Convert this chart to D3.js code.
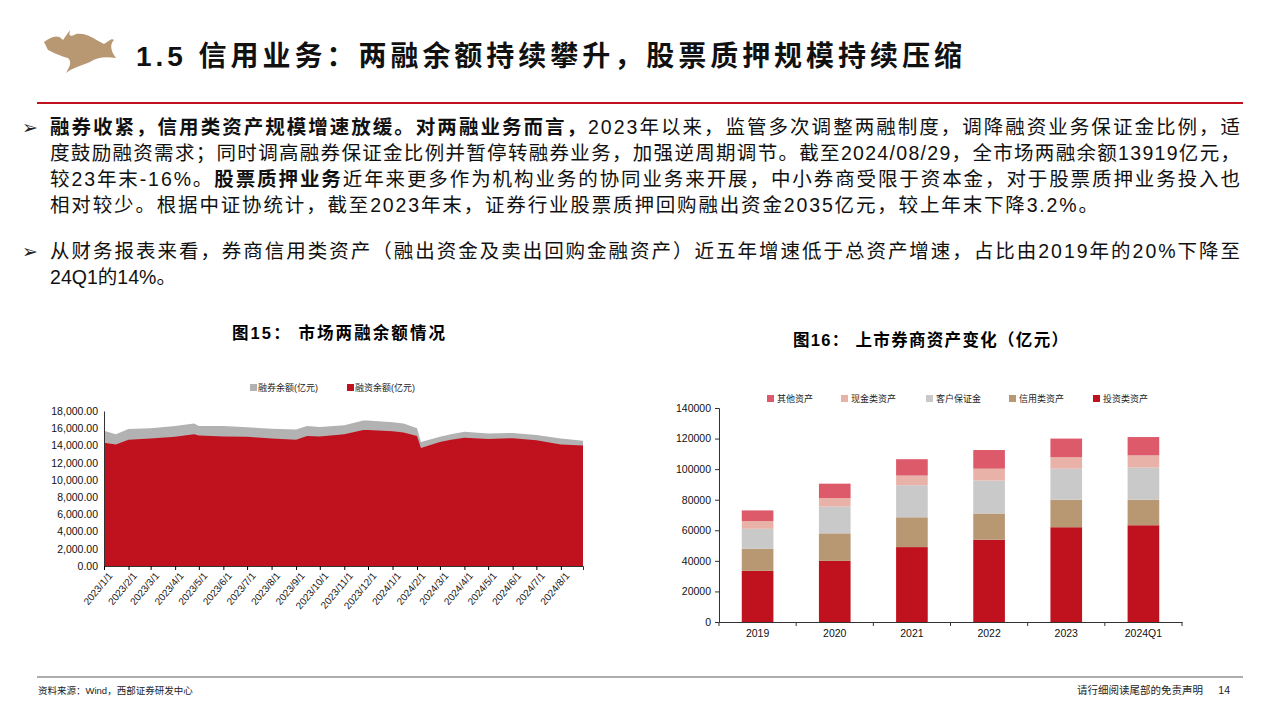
<!DOCTYPE html>
<html><head><meta charset="utf-8">
<script src="https://cdn.jsdelivr.net/npm/d3@7"></script>
<style>
body{margin:0;background:#fff;}
text{font-family:"Liberation Sans","Noto Sans CJK SC",sans-serif;}
</style></head>
<body><svg id="page" width="1280" height="720"></svg>
<script>
// left chart: margin balances (亿元)
const marginDates = ['2023-01-01','2023-01-16','2023-02-01','2023-03-01','2023-04-01','2023-04-25','2023-05-01','2023-06-01','2023-07-01','2023-08-01','2023-09-01','2023-09-15','2023-10-01','2023-11-01','2023-11-25','2023-12-01','2024-01-01','2024-01-15','2024-02-01','2024-02-06','2024-03-01','2024-03-15','2024-04-01','2024-05-01','2024-06-01','2024-07-01','2024-08-01','2024-08-29'];
const financing = [14300,14100,14650,14800,15000,15300,15150,15050,15000,14800,14650,15100,15050,15300,15800,15800,15650,15500,15100,13700,14400,14650,14900,14750,14850,14600,14100,14000];
const totalBalance = [15700,15300,15900,16000,16250,16550,16250,16250,16100,15950,15850,16250,16150,16350,16900,16900,16700,16550,16000,14400,15000,15300,15600,15400,15450,15200,14800,14550];
const leftTicks = [0,2000,4000,6000,8000,10000,12000,14000,16000,18000];

// right chart: listed brokers' assets (亿元)
const years = ['2019','2020','2021','2022','2023','2024Q1'];
const assetKeys = ['投资类资产','信用类资产','客户保证金','现金类资产','其他资产'];
const investAssets = [33500,40000,49000,53800,62000,63300];
const creditAssets = [14500,18000,19500,17200,18000,16700];
const clientDeposits = [13000,17500,21000,21500,20300,21000];
const cashAssets = [5000,5500,6300,7800,7500,8000];
const otherAssets = [7000,9500,10700,12200,12200,12000];
const assetColors = ['#c0111e','#b89773','#c9c9c9','#e8b2a8','#dc5a6a'];

const svg = d3.select('#page');

// header
svg.append('path')
  .attr('d','M44,42 C52,36 58,34 63,40 L70,30 C68,38 72,36 76,34 C86,32 96,40 104,44 C110,40 112,38 114,40 C110,44 110,50 116,58 C104,56 96,58 90,62 C80,66 72,68 66,73 C70,66 72,62 68,58 C60,56 52,52 48,50 Z')
  .attr('fill','#b89773');
svg.append('text').attr('x',136).attr('y',66)
  .attr('font-size',28).attr('font-weight','bold').attr('fill','#111')
  .attr('textLength',826).attr('lengthAdjust','spacing')
  .text('1.5 信用业务：两融余额持续攀升，股票质押规模持续压缩');
svg.append('line').attr('x1',37).attr('x2',1243).attr('y1',103).attr('y2',103)
  .attr('stroke','#c0111e').attr('stroke-width',2);

// body text
const lines = [
  {y:134, parts:[['融券收紧，信用类资产规模增速放缓。对两融业务而言，',1],['2023年以来，监管多次调整两融制度，调降融资业务保证金比例，适',0]], len:1190, bullet:true},
  {y:160, parts:[['度鼓励融资需求；同时调高融券保证金比例并暂停转融券业务，加强逆周期调节。截至2024/08/29，全市场两融余额13919亿元，',0]], len:1190},
  {y:186, parts:[['较23年末-16%。',0],['股票质押业务',1],['近年来更多作为机构业务的协同业务来开展，中小券商受限于资本金，对于股票质押业务投入也',0]], len:1190},
  {y:212, parts:[['相对较少。根据中证协统计，截至2023年末，证券行业股票质押回购融出资金2035亿元，较上年末下降3.2%。',0]], len:1048},
  {y:258, parts:[['从财务报表来看，券商信用类资产（融出资金及卖出回购金融资产）近五年增速低于总资产增速，占比由2019年的20%下降至',0]], len:1190, bullet:true},
  {y:284, parts:[['24Q1的14%。',0]], len:126}
];
lines.forEach(l => {
  if (l.bullet) svg.append('text').attr('x',22).attr('y',l.y).attr('font-size',19).attr('fill','#222').text('➢');
  const t = svg.append('text').attr('x',50).attr('y',l.y).attr('font-size',19.5).attr('fill','#111')
    .attr('textLength',l.len).attr('lengthAdjust','spacing');
  l.parts.forEach(p => t.append('tspan').attr('font-weight',p[1]?'bold':'normal').text(p[0]));
});

// chart titles
svg.append('text').attr('x',232).attr('y',339).attr('font-size',16.5).attr('font-weight','bold')
  .attr('textLength',213).attr('lengthAdjust','spacing').text('图15：  市场两融余额情况');
svg.append('text').attr('x',793).attr('y',346).attr('font-size',16.5).attr('font-weight','bold')
  .attr('textLength',275).attr('lengthAdjust','spacing').text('图16：  上市券商资产变化（亿元）');

// ---- left area chart
const parse = d3.timeParse('%Y-%m-%d');
const leftData = marginDates.map((d,i) => ({date:parse(d), fin:financing[i], tot:totalBalance[i]}));
const lx = d3.scaleTime().domain([parse('2023-01-01'), parse('2024-08-29')]).range([104,583]);
const ly = d3.scaleLinear().domain([0,18000]).range([566,411]);
const lg = svg.append('g');
lg.append('path').datum(leftData)
  .attr('d', d3.area().x(d=>lx(d.date)).y0(ly(0)).y1(d=>ly(d.tot)))
  .attr('fill','#b2b2b2');
lg.append('path').datum(leftData)
  .attr('d', d3.area().x(d=>lx(d.date)).y0(ly(0)).y1(d=>ly(d.fin)))
  .attr('fill','#c0111e');
const lyAxis = lg.append('g').attr('transform','translate(104,0)')
  .call(d3.axisLeft(ly).tickValues(leftTicks).tickSize(0).tickPadding(6).tickFormat(d3.format(',.2f')));
lyAxis.selectAll('text').attr('font-size',10.5).attr('fill','#111');
lyAxis.select('.domain').attr('stroke','#333');
const monthTicks = d3.timeMonth.range(parse('2023-01-01'), parse('2024-08-02'));
const lxAxis = lg.append('g').attr('transform','translate(0,566)')
  .call(d3.axisBottom(lx).tickValues(monthTicks).tickSize(4).tickFormat(d3.timeFormat('%Y/%-m/%-d')));
lxAxis.select('.domain').attr('stroke','#333');
lxAxis.selectAll('text').attr('font-size',10).attr('fill','#111')
  .attr('text-anchor','end').attr('transform','rotate(-50)').attr('dx','-2').attr('dy','6');
const legL = [['融券余额(亿元)','#b2b2b2',250],['融资余额(亿元)','#c0111e',347]];
legL.forEach(d => {
  svg.append('rect').attr('x',d[2]).attr('y',384).attr('width',7).attr('height',7).attr('fill',d[1]);
  svg.append('text').attr('x',d[2]+8).attr('y',391).attr('font-size',9).attr('fill','#222').text(d[0]);
});

// ---- right stacked bars
const rightData = years.map((y,i) => ({year:y, '投资类资产':investAssets[i], '信用类资产':creditAssets[i], '客户保证金':clientDeposits[i], '现金类资产':cashAssets[i], '其他资产':otherAssets[i]}));
const rx = d3.scaleBand().domain(years).range([719,1182]).paddingInner(0.59).paddingOuter(0.295);
const ry = d3.scaleLinear().domain([0,140000]).range([622,408]);
const color = d3.scaleOrdinal().domain(assetKeys).range(assetColors);
const stack = d3.stack().keys(assetKeys)(rightData);
const rg = svg.append('g');
rg.selectAll('g.layer').data(stack).enter().append('g').attr('fill', d=>color(d.key))
  .selectAll('rect').data(d=>d).enter().append('rect')
  .attr('x', d=>rx(d.data.year)).attr('width', rx.bandwidth())
  .attr('y', d=>ry(d[1])).attr('height', d=>ry(d[0])-ry(d[1]));
const ryAxis = rg.append('g').attr('transform','translate(719,0)')
  .call(d3.axisLeft(ry).ticks(7).tickSize(4).tickPadding(4).tickFormat(d3.format('d')));
ryAxis.selectAll('text').attr('font-size',10.5).attr('fill','#111');
ryAxis.selectAll('line').attr('stroke','#333'); ryAxis.select('.domain').attr('stroke','#333');
const rxAxis = rg.append('g').attr('transform','translate(0,622)')
  .call(d3.axisBottom(rx).tickSize(0).tickPadding(8));
rxAxis.selectAll('text').attr('font-size',10.5).attr('fill','#111');
rxAxis.select('.domain').attr('stroke','#333');
// category boundary ticks
rg.append('g').selectAll('line').data(d3.range(years.length+1)).enter().append('line')
  .attr('x1', i=>719+i*(463/years.length)).attr('x2', i=>719+i*(463/years.length))
  .attr('y1',622).attr('y2',626).attr('stroke','#333');
const legR = [['其他资产','#dc5a6a',767],['现金类资产','#e8b2a8',841],['客户保证金','#c9c9c9',926],['信用类资产','#b89773',1009],['投资类资产','#c0111e',1093]];
legR.forEach(d => {
  svg.append('rect').attr('x',d[2]).attr('y',395).attr('width',7).attr('height',7).attr('fill',d[1]);
  svg.append('text').attr('x',d[2]+10).attr('y',402).attr('font-size',9).attr('fill','#222').text(d[0]);
});

// footer
svg.append('line').attr('x1',37).attr('x2',1243).attr('y1',677).attr('y2',677).attr('stroke','#333').attr('stroke-width',0.8);
svg.append('text').attr('x',38).attr('y',694).attr('font-size',9.5).attr('fill','#222').text('资料来源：Wind，西部证券研发中心');
svg.append('text').attr('x',1203).attr('y',694).attr('text-anchor','end').attr('font-size',10.5).attr('fill','#222').text('请行细阅读尾部的免责声明');
svg.append('text').attr('x',1230).attr('y',694).attr('text-anchor','end').attr('font-size',10.5).attr('fill','#222').text('14');
</script></body></html>
